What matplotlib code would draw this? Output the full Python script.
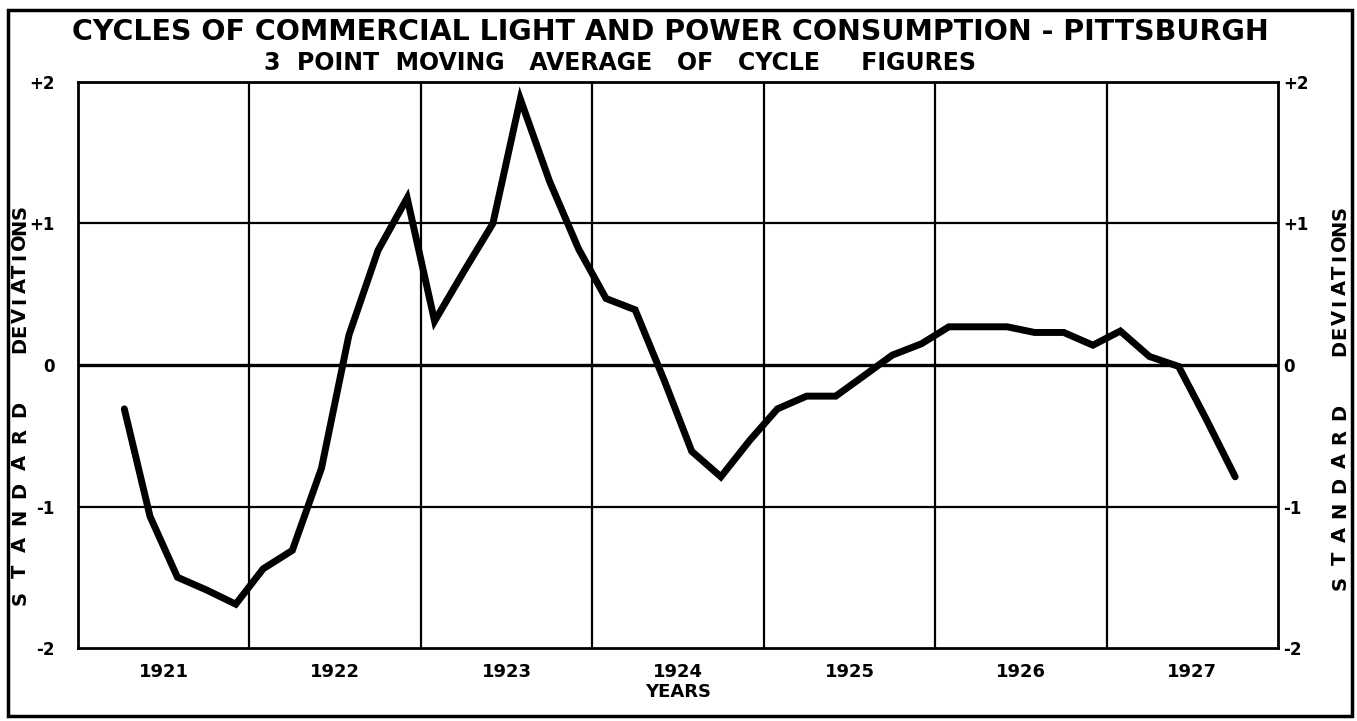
import matplotlib
matplotlib.use('Agg')
import matplotlib.pyplot as plt
from matplotlib.patches import Rectangle

# bimonthly points (year, standard deviations)
years = [1921.27, 1921.42, 1921.58, 1921.75, 1921.92,
         1922.08, 1922.25, 1922.42, 1922.58, 1922.75, 1922.92,
         1923.08, 1923.25, 1923.42, 1923.58, 1923.75, 1923.92,
         1924.08, 1924.25, 1924.42, 1924.58, 1924.75, 1924.92,
         1925.08, 1925.25, 1925.42, 1925.58, 1925.75, 1925.92,
         1926.08, 1926.25, 1926.42, 1926.58, 1926.75, 1926.92,
         1927.08, 1927.25, 1927.42, 1927.58, 1927.75]
values = [-0.31, -1.07, -1.50, -1.59, -1.69,
          -1.44, -1.31, -0.73, 0.21, 0.81, 1.18,
          0.31, 0.66, 1.00, 1.88, 1.30, 0.82,
          0.47, 0.39, -0.11, -0.61, -0.79, -0.53,
          -0.31, -0.22, -0.22, -0.08, 0.07, 0.15,
          0.27, 0.27, 0.27, 0.23, 0.23, 0.14,
          0.24, 0.06, -0.01, -0.38, -0.79]

year_labels = ['1921', '1922', '1923', '1924', '1925', '1926', '1927']
y_ticks = [-2, -1, 0, 1, 2]
y_tick_labels = ['-2', '-1', '0', '+1', '+2']

W, H = 1357, 721

plt.rcParams['font.family'] = 'DejaVu Sans'
plt.rcParams['font.weight'] = 'bold'

fig = plt.figure(figsize=(W / 100, H / 100), dpi=100)
ax = fig.add_axes([0.0575, 0.1012, 0.8843, 0.7851])

ax.set_xlim(1921, 1928)
ax.set_ylim(-2, 2)

for x in range(1922, 1928):
    ax.axvline(x, color='black', lw=1.6, zorder=1)
for y in [-1, 1]:
    ax.axhline(y, color='black', lw=1.6, zorder=1)
ax.axhline(0, color='black', lw=2.4, zorder=1)

ax.plot(years, values, color='black', lw=5, solid_joinstyle='miter',
        solid_capstyle='round', zorder=3)

ax.set_xticks([int(l) + 0.5 for l in year_labels])
ax.set_xticklabels(year_labels, fontsize=13, fontweight='bold')
ax.set_yticks(y_ticks)
ax.set_yticklabels(y_tick_labels, fontsize=12, fontweight='bold')
ax.tick_params(axis='y', length=0, pad=17)
ax.tick_params(axis='x', length=0, pad=11)
ax.set_xlabel('YEARS', fontsize=13, fontweight='bold', labelpad=1)

for s in ax.spines.values():
    s.set_linewidth(2)

ax2 = ax.twinx()
ax2.set_ylim(-2, 2)
ax2.set_yticks(y_ticks)
ax2.set_yticklabels(y_tick_labels, fontsize=12, fontweight='bold')
ax2.tick_params(axis='y', length=0, pad=4)
for s in ax2.spines.values():
    s.set_visible(False)


def spaced_vertical(x, y_bottom, y_top, word):
    # hand-lettered look: letters spread evenly between two pixel rows
    n = len(word)
    step = (y_top - y_bottom) / n
    for i, ch in enumerate(word):
        y = y_bottom + (i + 0.5) * step
        fig.text(x / W, 1 - y / H, ch, rotation=90, ha='center', va='center',
                 fontsize=14, fontweight='bold')


spaced_vertical(20, 612, 395, 'STANDARD')
spaced_vertical(20, 352, 205, 'DEVIATIONS')
spaced_vertical(1340, 595, 400, 'STANDARD')
spaced_vertical(1340, 355, 205, 'DEVIATIONS')

fig.text(0.494, 0.956, 'CYCLES OF COMMERCIAL LIGHT AND POWER CONSUMPTION - PITTSBURGH',
         ha='center', va='center', fontsize=20.5, fontweight='bold')
fig.text(0.457, 0.912, '3  POINT  MOVING   AVERAGE   OF   CYCLE     FIGURES',
         ha='center', va='center', fontsize=17, fontweight='bold')

fig.patches.append(Rectangle((0.006, 0.007), 0.990, 0.979, transform=fig.transFigure,
                             fill=False, edgecolor='black', lw=2.5))

fig.savefig('out.png', dpi=100)
